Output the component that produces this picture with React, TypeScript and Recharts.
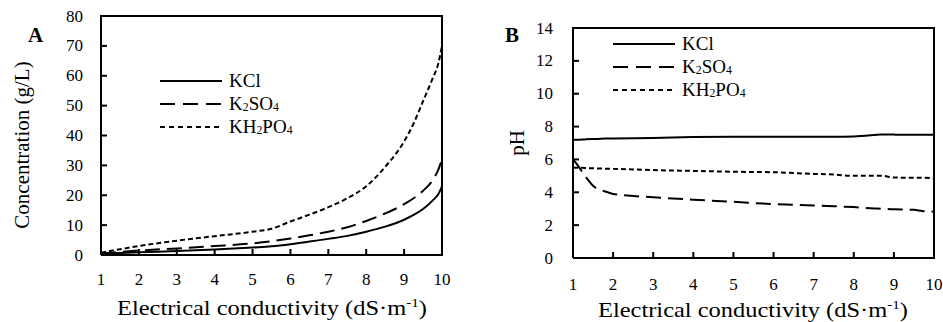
import React from 'react';
import { LineChart, Line, XAxis, YAxis, Legend } from 'recharts';

const FONT = '"Liberation Serif", "Times New Roman", serif';

// ---------- Panel A: concentration vs EC ----------
const ecA = [1, 2, 3, 4, 5, 5.5, 6, 6.5, 7, 7.5, 8, 8.5, 9, 9.25, 9.5, 9.75, 9.9, 10];
const kclA = [0.4, 0.9, 1.3, 1.8, 2.5, 2.9, 3.6, 4.5, 5.4, 6.4, 7.8, 9.5, 11.8, 13.4, 15.4, 18.2, 20.3, 23];
const k2so4A = [0.5, 1.5, 2.2, 3.0, 3.9, 4.6, 5.5, 6.6, 7.8, 9.3, 11.4, 13.9, 17.0, 19.0, 21.5, 25.0, 28.5, 32];
const kh2po4A = [0.8, 3.0, 4.8, 6.3, 7.8, 8.8, 11.2, 13.5, 16.0, 19.0, 23.0, 29.5, 38.0, 44.0, 51.5, 59.0, 64.0, 70];

// ---------- Panel B: pH vs EC ----------
const ecB = [1, 1.1, 1.3, 1.5, 1.8, 2, 3, 4, 5, 6, 7, 7.5, 8, 8.5, 8.7, 9, 9.5, 9.7, 10];
const kclB = [7.2, 7.2, 7.22, 7.24, 7.27, 7.28, 7.3, 7.36, 7.38, 7.38, 7.38, 7.38, 7.4, 7.48, 7.52, 7.51, 7.5, 7.5, 7.5];
const k2so4B = [6.0, 5.7, 5.0, 4.4, 4.05, 3.9, 3.7, 3.55, 3.42, 3.28, 3.2, 3.15, 3.1, 3.02, 3.0, 2.96, 2.93, 2.86, 2.82];
const kh2po4B = [5.5, 5.5, 5.48, 5.46, 5.44, 5.43, 5.35, 5.3, 5.25, 5.22, 5.12, 5.08, 5.0, 5.0, 5.0, 4.9, 4.88, 4.88, 4.85];

const xTicks = [1, 2, 3, 4, 5, 6, 7, 8, 9, 10];
const yTicksA = [0, 10, 20, 30, 40, 50, 60, 70, 80];
const yTicksB = [0, 2, 4, 6, 8, 10, 12, 14];

const seriesDash = ['', '15 7', '5 3'];
const legendDash = [null, [15, 8], [5, 4]];

const rowsA = ecA.map((x, i) => ({ ec: x, kcl: kclA[i], k2so4: k2so4A[i], kh2po4: kh2po4A[i] }));
const rowsB = ecB.map((x, i) => ({ ec: x, kcl: kclB[i], k2so4: k2so4B[i], kh2po4: kh2po4B[i] }));

const TICK_LEN = 6;
const AXIS_LINE = { stroke: '#000', strokeWidth: 2 };

const makeYTick = (gap: number) => (props: any) => {
  const { x, y, payload } = props;
  const ax = x + gap;
  return (
    <g>
      <rect x={ax} y={y - 1} width={TICK_LEN} height={2} fill="#000" />
      <text x={x} y={y} textAnchor="end" dominantBaseline="central" fontFamily={FONT} fontSize={17} fill="#000">
        {payload.value}
      </text>
    </g>
  );
};

const makeXTick = (gap: number) => (props: any) => {
  const { x, y, payload } = props;
  const ay = y - gap;
  return (
    <g>
      <rect x={x - 1} y={ay - TICK_LEN} width={2} height={TICK_LEN} fill="#000" />
      <text x={x} y={y} textAnchor="middle" fontFamily={FONT} fontSize={17} fill="#000">
        {payload.value}
      </text>
    </g>
  );
};

const Sub = ({ children }: { children: React.ReactNode }) => (
  <span style={{ fontSize: '0.62em', position: 'relative', top: 1 }}>{children}</span>
);

const legendLabels = [
  <span>KCl</span>,
  <span>K<Sub>2</Sub>SO<Sub>4</Sub></span>,
  <span>KH<Sub>2</Sub>PO<Sub>4</Sub></span>,
];

const sampleStyle = (i: number): React.CSSProperties => {
  const d = legendDash[i];
  return {
    width: 62,
    height: 2,
    background: d ? `repeating-linear-gradient(90deg, #000 0px, #000 ${d[0]}px, transparent ${d[0]}px, transparent ${d[0] + d[1]}px)` : '#000',
  };
};

const LegendBox = () => (
  <div style={{ fontFamily: FONT, fontSize: 19, color: '#000', lineHeight: 1 }}>
    {legendLabels.map((lab, i) => (
      <div key={i} style={{ display: 'flex', alignItems: 'center', height: 23 }}>
        <div style={sampleStyle(i)} />
        <span style={{ marginLeft: 7 }}>{lab}</span>
      </div>
    ))}
  </div>
);

const xTitle = (cx: number, baseline: number) => (
  <text x={cx} y={baseline} textAnchor="middle" fontFamily={FONT} fontSize={21} fill="#000" textLength={310} lengthAdjust="spacingAndGlyphs">
    Electrical conductivity (dS·m
    <tspan dy={-8} fontSize={13}>-1</tspan>
    <tspan dy={8}>)</tspan>
  </text>
);

const yTitle = (cx: number, cy: number, text: string, panel: string, px: number, py: number) => (
  <g>
    <text
      x={cx}
      y={cy}
      transform={`rotate(-90 ${cx} ${cy})`}
      textAnchor="middle"
      dominantBaseline="central"
      fontFamily={FONT}
      fontSize={21}
      fill="#000"
    >
      {text}
    </text>
    <text x={px} y={py} fontFamily={FONT} fontSize={21} fontWeight="bold" fill="#000">
      {panel}
    </text>
  </g>
);

const XLabelA = () => xTitle(272, 315);
const YLabelA = () => yTitle(22, 145, 'Concentration (g/L)', 'A', 28, 42);
const XLabelB = () => xTitle(283, 317);
const YLabelB = () => yTitle(47, 143, 'pH', 'B', 35, 42);

// top + right edges of the plot frame (left/bottom come from the axis lines)
const Frame = ({ left, top, width, height }: { left: number; top: number; width: number; height: number }) => (
  <div
    style={{
      position: 'absolute',
      left,
      top,
      width,
      height,
      boxSizing: 'border-box',
      borderTop: '2px solid #000',
      borderRight: '2px solid #000',
      pointerEvents: 'none',
    }}
  />
);

export default function App() {
  return (
    <div style={{ position: 'absolute', left: 0, top: 0, width: 943, height: 322 }}>
      <div style={{ position: 'absolute', left: 0, top: 0, width: 470, height: 322 }}>
        <LineChart width={470} height={322} data={rowsA} margin={{ top: 16, right: 28, bottom: 37, left: 41 }}>
          <XAxis
            dataKey="ec"
            type="number"
            domain={[1, 10]}
            ticks={xTicks}
            height={30}
            tickSize={0}
            tickMargin={30}
            axisLine={AXIS_LINE}
            tickLine={false}
            tick={makeXTick(30)}
            label={XLabelA}
          />
          <YAxis
            type="number"
            domain={[0, 80]}
            ticks={yTicksA}
            width={60}
            tickSize={0}
            tickMargin={18}
            axisLine={AXIS_LINE}
            tickLine={false}
            tick={makeYTick(18)}
            label={YLabelA}
          />
          <Line dataKey="kcl" type="monotone" stroke="#000" strokeWidth={2} dot={false} activeDot={false} isAnimationActive={false} />
          <Line dataKey="k2so4" type="monotone" stroke="#000" strokeWidth={2} strokeDasharray={seriesDash[1]} dot={false} activeDot={false} isAnimationActive={false} />
          <Line dataKey="kh2po4" type="monotone" stroke="#000" strokeWidth={2} strokeDasharray={seriesDash[2]} dot={false} activeDot={false} isAnimationActive={false} />
          <Legend
            layout="vertical"
            align="center"
            verticalAlign="middle"
            content={() => <LegendBox />}
            wrapperStyle={{ position: 'absolute', left: 160, top: 69, width: 'auto' }}
          />
        </LineChart>
        <Frame left={100} top={15} width={343} height={241} />
      </div>
      <div style={{ position: 'absolute', left: 470, top: 0, width: 473, height: 322 }}>
        <LineChart width={473} height={322} data={rowsB} margin={{ top: 28, right: 9, bottom: 34, left: 43 }}>
          <XAxis
            dataKey="ec"
            type="number"
            domain={[1, 10]}
            ticks={xTicks}
            height={30}
            tickSize={0}
            tickMargin={32}
            axisLine={AXIS_LINE}
            tickLine={false}
            tick={makeXTick(32)}
            label={XLabelB}
          />
          <YAxis
            type="number"
            domain={[0, 14]}
            ticks={yTicksB}
            width={60}
            tickSize={0}
            tickMargin={20}
            axisLine={AXIS_LINE}
            tickLine={false}
            tick={makeYTick(20)}
            label={YLabelB}
          />
          <Line dataKey="kcl" type="monotone" stroke="#000" strokeWidth={2} dot={false} activeDot={false} isAnimationActive={false} />
          <Line dataKey="k2so4" type="monotone" stroke="#000" strokeWidth={2} strokeDasharray={seriesDash[1]} dot={false} activeDot={false} isAnimationActive={false} />
          <Line dataKey="kh2po4" type="monotone" stroke="#000" strokeWidth={2} strokeDasharray={seriesDash[2]} dot={false} activeDot={false} isAnimationActive={false} />
          <Legend
            layout="vertical"
            align="center"
            verticalAlign="middle"
            content={() => <LegendBox />}
            wrapperStyle={{ position: 'absolute', left: 143, top: 32, width: 'auto' }}
          />
        </LineChart>
        <Frame left={102} top={27} width={363} height={232} />
      </div>
    </div>
  );
}
